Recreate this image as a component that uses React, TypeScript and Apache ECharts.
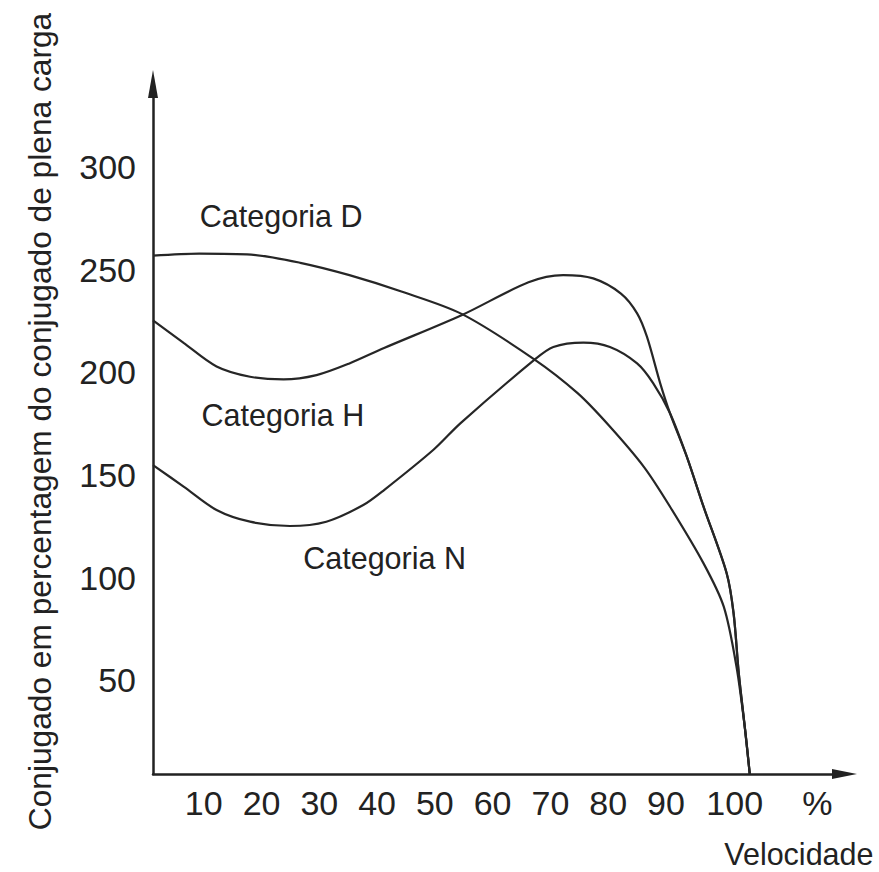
import React, { useEffect, useRef } from "react";
import * as echarts from "echarts";

// ---- data ----
const categories = ["Categoria D", "Categoria H", "Categoria N"];

const speedD = [0, 8, 17, 25.5, 34, 43, 53.5, 66, 73.5, 79, 85, 89.5, 95.3, 98.8, 101, 102.5, 103.3];
const torqueD = [252.5, 253.5, 253, 249, 243, 235, 224, 202, 185.5, 169.5, 149.5, 130.2, 102.6, 81.5, 52.3, 21.4, 0];

const speedH = [0, 5.3, 11, 16.8, 22.6, 28.3, 34, 40, 53.5, 65, 71, 76.2, 81, 83.8, 85.5, 87.8, 89.5, 92.4, 95.3, 99.3, 100.5, 101.4, 102.5, 103.3];
const torqueH = [221, 210, 198.5, 193.5, 192.2, 194.3, 200, 207.5, 223.6, 239.5, 243, 241.4, 234, 224.4, 213, 190.3, 175.7, 154.6, 130.2, 97.8, 78.3, 49, 21.4, 0];

const speedN = [0, 5.3, 11, 16.8, 23.7, 30, 36.4, 40, 48.5, 53.2, 66, 69.3, 74.5, 79.1, 83.8, 86.6, 89.5, 92.4, 95.3, 99.3, 100.5, 101.4, 102.5, 103.3];
const torqueN = [150.5, 140, 128.6, 122.9, 120.8, 122.9, 131, 138.3, 157.8, 170.8, 201.7, 208, 210.1, 208, 200, 190.3, 175.7, 154.6, 130.2, 97.8, 78.3, 49, 21.4, 0];

// label anchors (data coordinates: left edge / vertical middle of each text)
const labelSpeed = [8.1, 8.4, 26.0];
const labelTorque = [271.6, 174.9, 105.2];

const xTickValues = [10, 20, 30, 40, 50, 60, 70, 80, 90, 100];
const xUnitLabel = "%";
const xUnitPos = 115;
const yTickValues = [50, 100, 150, 200, 250, 300];

const xName = "Velocidade";
const yName = "Conjugado em percentagem do conjugado de plena carga";

const FONT = "'Liberation Sans', Arial, Helvetica, sans-serif";
const INK = "#222";
const TICK_SIZE = 34;
const TEXT_SIZE = 30.5;

function zip(xs: number[], ys: number[]) {
  return xs.map((x, i) => [x, ys[i]]);
}

export default function App() {
  const ref = useRef<HTMLDivElement>(null);

  useEffect(() => {
    document.body.style.margin = "0";
    document.body.style.overflow = "hidden";
    if (!ref.current) return;
    const chart = echarts.init(ref.current, undefined, { renderer: "svg" });

    const seriesData = [zip(speedD, torqueD), zip(speedH, torqueH), zip(speedN, torqueN)];

    const tickRich = (pad: number[]) => ({
      fontFamily: FONT,
      fontSize: TICK_SIZE,
      color: INK,
      padding: pad,
    });

    const option: any = {
      animation: false,
      backgroundColor: "#ffffff",
      title: {
        text: xName,
        right: 5.5,
        top: 838,
        padding: 0,
        textStyle: {
          fontFamily: FONT,
          fontSize: TEXT_SIZE,
          fontWeight: "normal",
          color: INK,
        },
      },
      grid: {
        left: 153,
        top: 84,
        right: 34.5,
        bottom: 98,
        containLabel: false,
        outerBoundsMode: "none",
      },
      xAxis: {
        type: "value",
        min: 0,
        max: 119.7,
        interval: 5,
        axisLine: {
          show: true,
          onZero: false,
          symbol: ["none", "triangle"],
          symbolSize: [10, 25],
          lineStyle: { color: INK, width: 2.5 },
        },
        axisTick: { show: false },
        splitLine: { show: false },
        axisLabel: {
          margin: 12,
          color: INK,
          fontFamily: FONT,
          fontSize: TICK_SIZE,
          formatter: (v: number) => {
            if (v === 100) return "{c|100}";
            if (v === xUnitPos) return "{u|" + xUnitLabel + "}";
            if (xTickValues.indexOf(v) >= 0) return "{s|" + v + "}";
            return "";
          },
          rich: {
            s: tickRich([0, 14, 0, 0]),
            c: tickRich([0, 0, 0, 8]),
            u: tickRich([0, 0, 0, 0]),
          },
        },
      },
      yAxis: {
        type: "value",
        min: 0,
        max: 336.1,
        interval: 50,
        axisLine: {
          show: true,
          onZero: false,
          symbol: ["none", "triangle"],
          symbolSize: [10, 28],
          lineStyle: { color: INK, width: 2.5 },
        },
        axisTick: { show: false },
        splitLine: { show: false },
        axisLabel: {
          margin: 17,
          color: INK,
          fontFamily: FONT,
          fontSize: TICK_SIZE,
          formatter: (v: number) => (yTickValues.indexOf(v) >= 0 ? "{v|" + v + "}" : ""),
          rich: {
            v: tickRich([18, 0, 0, 0]),
          },
        },
        name: yName,
        nameLocation: "middle",
        nameGap: 97,
        nameRotate: 90,
        nameTextStyle: {
          fontFamily: FONT,
          fontSize: 31.7,
          color: INK,
          padding: [0, 0, 0, 15],
        },
      },
      series: categories.map((name, i) => ({
        name,
        type: "line",
        data: seriesData[i],
        showSymbol: false,
        smooth: 0.3,
        lineStyle: { color: "#262626", width: 2.2 },
        emphasis: { disabled: true },
        markPoint: {
          silent: true,
          symbol: "circle",
          symbolSize: 0,
          data: [
            {
              coord: [labelSpeed[i], labelTorque[i]],
              label: {
                show: true,
                formatter: name,
                position: "right",
                distance: 0,
                fontFamily: FONT,
                fontSize: TEXT_SIZE,
                color: INK,
              },
            },
          ],
        },
      })),
    };

    chart.setOption(option);
    return () => chart.dispose();
  }, []);

  return <div ref={ref} style={{ width: 879, height: 872 }} />;
}
